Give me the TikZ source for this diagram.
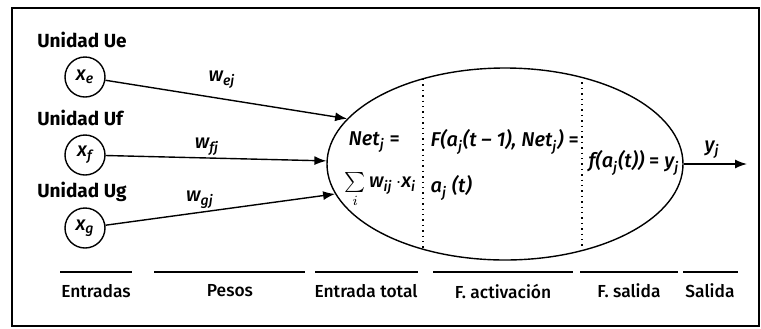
\documentclass[tikz,border=0pt]{standalone}
\usepackage{fontspec}
\setmainfont{Fira Sans}
\newfontfamily\medfont[Ligatures=TeX]{Fira Sans Medium}
\usetikzlibrary{arrows.meta,positioning,shapes}
\newcommand{\lo}[1]{\textsubscript{\itshape #1}}

\begin{document}
\begin{tikzpicture}[x=0.5pt,y=-0.5pt,line width=0.7pt,
  unit/.style={draw,circle,minimum size=20pt,inner sep=0pt,font=\fontsize{10}{12}\medfont\itshape},
  title/.style={anchor=west,font=\fontsize{9.5}{11}\selectfont\bfseries},
  weight/.style={font=\fontsize{10}{12}\medfont\itshape},
  formula/.style={anchor=west,inner sep=0pt,font=\fontsize{10}{12}\medfont\itshape},
  caption/.style={font=\fontsize{8.7}{10}\medfont},
  >={Latex[length=6pt,width=4.5pt]}]
\useasboundingbox (0,0) rectangle (761,328);
\draw[line width=1.3pt] (12,8) rectangle (759,326);
% entradas
\node[title] (ue) at (30,40) {Unidad Ue};
\node[title] (uf) at (30,118) {Unidad Uf};
\node[title] (ug) at (30,192) {Unidad Ug};
\node[unit] (xe) at (85,77) {x\lo{e}};
\node[unit] (xf) at (85,155) {x\lo{f}};
\node[unit] (xg) at (85,228) {x\lo{g}};
% neurona
\node[draw,ellipse,minimum width=178pt,minimum height=96pt,inner sep=0pt] (neuron) at (505,164) {};
\draw[dotted] (423,79) -- (423,249);
\draw[dotted] (582,77) -- (582,251);
\node[formula] (net) at (348,142) {Net\lo{j} \upshape=};
\node[formula] (sum) at (344,190) {$\sum\limits_{i}$\,w\lo{ij}\,$\cdot$x\lo{i}};
\node[formula] (act) at (430,142) {F(a\lo{j}(t -- 1), Net\lo{j}) \upshape=};
\node[formula] (aj) at (430,188) {a\lo{j} (t)};
\node[formula] (fout) at (588,163) {f(a\lo{j}(t)) \upshape= \itshape y\lo{j}};
% pesos
\node[weight] (wej) at (222,80) {w\lo{ej}};
\node[weight] (wfj) at (207,147) {w\lo{fj}};
\node[weight] (wgj) at (200,200) {w\lo{gj}};
\draw[->] (xe) -- (neuron.164);
\draw[->] (xf) -- (neuron.179);
\draw[->] (xg) -- (neuron.190);
% salida
\coordinate (out) at (747,164);
\node[weight] (yj) at (712,150) {y\lo{j}};
\draw[->] (neuron.east) -- (out);
% leyenda
\node[caption] (c1) at (96,291) {Entradas};
\node[caption] (c2) at (230,291) {Pesos};
\node[caption] (c3) at (366,291) {Entrada total};
\node[caption] (c4) at (503,291) {F. activación};
\node[caption] (c5) at (629,291) {F. salida};
\node[caption] (c6) at (710,291) {Salida};
\draw (60,272) -- (132,272);
\draw (154,272) -- (305,272);
\draw (315,272) -- (418,272);
\draw (433,272) -- (573,272);
\draw (580,272) -- (678,272);
\draw (683,272) -- (738,272);
\end{tikzpicture}
\end{document}
